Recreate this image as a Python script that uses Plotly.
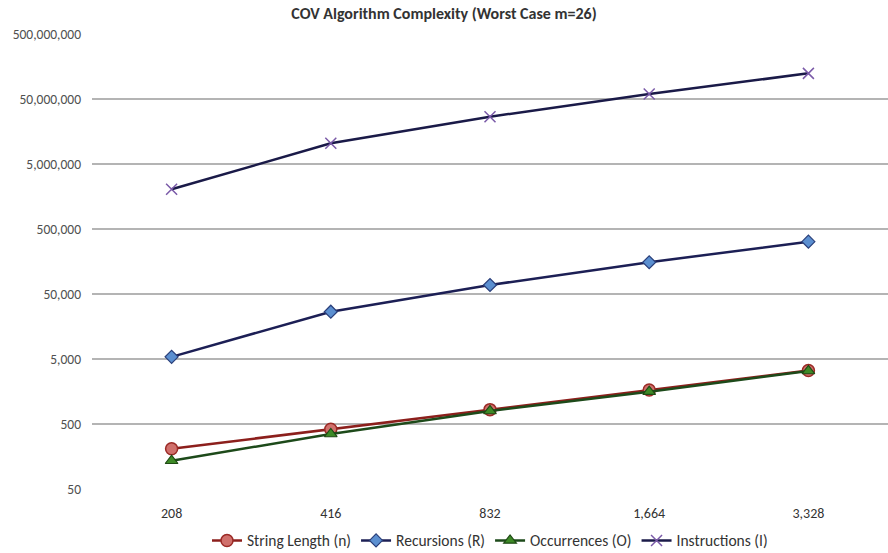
import plotly.graph_objects as go

# Input string lengths (category axis labels)
string_lengths = ["208", "416", "832", "1,664", "3,328"]

# Series values per string length (worst case m=26)
length_n = [208, 416, 832, 1664, 3328]
recursions_r = [5400, 26700, 68800, 154000, 319000]
occurrences_o = [136, 351, 793, 1570, 3270]
instructions_i = [2040000, 10400000, 26700000, 59700000, 124000000]

# Log-axis ticks
y_tickvals = [50, 500, 5000, 50000, 500000, 5000000, 50000000, 500000000]
y_ticktext = ["50", "500", "5,000", "50,000", "500,000", "5,000,000",
              "50,000,000", "500,000,000"]

FONT = "Carlito, 'Liberation Sans Narrow', 'Open Sans', sans-serif"

fig = go.Figure()

fig.add_trace(go.Scatter(
    x=string_lengths, y=length_n, name="String Length (n)",
    mode="lines+markers",
    line=dict(color="#8c1f1c", width=2.5),
    marker=dict(symbol="circle", size=12, color="#d0706c",
                line=dict(color="#9b2a26", width=1.5)),
))
fig.add_trace(go.Scatter(
    x=string_lengths, y=recursions_r, name="Recursions (R)",
    mode="lines+markers",
    line=dict(color="#1c1f55", width=2.5),
    marker=dict(symbol="diamond", size=10, color="#5b8fd0",
                line=dict(color="#2a3f7a", width=1.2)),
))
fig.add_trace(go.Scatter(
    x=string_lengths, y=occurrences_o, name="Occurrences (O)",
    mode="lines+markers",
    line=dict(color="#1d4a1a", width=2.5),
    marker=dict(symbol="triangle-up", size=11, color="#3d8a26",
                line=dict(color="#1f4a14", width=1.2)),
))
fig.add_trace(go.Scatter(
    x=string_lengths, y=instructions_i, name="Instructions (I)",
    mode="lines+markers",
    line=dict(color="#1a1a48", width=2.5),
    marker=dict(symbol="x-thin", size=11, color="#7a5aa8",
                line=dict(color="#7a5aa8", width=1.5)),
))

fig.update_layout(
    width=888, height=553,
    margin=dict(l=92, r=0, t=34, b=64, autoexpand=False),
    paper_bgcolor="white", plot_bgcolor="white",
    font=dict(family=FONT, size=13, color="#404040"),
    title=dict(text="<b>COV Algorithm Complexity (Worst Case m=26)</b>",
               x=0.5, xanchor="center", y=0.975, yanchor="middle",
               font=dict(family=FONT, size=16, color="#333333")),
    showlegend=True,
    legend=dict(orientation="h", x=0.5, xanchor="center",
                y=-0.114, yanchor="middle",
                font=dict(family=FONT, size=15.5, color="#333333"),
                itemwidth=30, tracegroupgap=0),
)

fig.update_xaxes(
    type="category", range=[-0.5, 4.5],
    showgrid=False, zeroline=False, showline=False,
    ticks="", tickfont=dict(family=FONT, size=14, color="#333333"),
    ticklabelstandoff=14,
)
fig.update_yaxes(
    type="log", range=[1.69897, 8.69897],
    tickvals=y_tickvals, ticktext=y_ticktext,
    showgrid=True, gridcolor="#b4b4b4", gridwidth=1.6,
    zeroline=False, showline=False, ticks="",
    tickfont=dict(family=FONT, size=13.5, color="#505050"),
    ticklabelstandoff=10,
)

fig.write_html("out.html")
